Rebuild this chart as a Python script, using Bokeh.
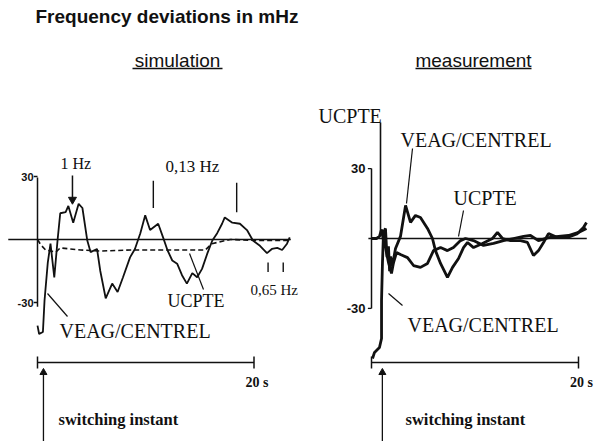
from bokeh.plotting import figure
from bokeh.models import Range1d
from bokeh.embed import file_html
from bokeh.resources import INLINE
from bokeh.core.properties import value

# ---------------- data ----------------
# simulation (left panel): time in s, deviation in mHz
sim_t = [0.0, 0.15, 0.5, 0.65, 0.95, 1.2, 1.55, 1.85, 2.1, 2.6, 2.85, 3.3, 3.8, 4.15, 4.6,
         4.9, 5.5, 5.8, 6.3, 6.9, 7.4, 7.9, 8.55, 9.0, 9.5, 9.95, 10.4, 11.15, 11.6, 12.0,
         12.45, 12.9, 13.35, 13.8, 14.3, 14.75, 15.2, 15.7, 16.15, 16.6, 17.05, 17.3, 18.0,
         18.7, 19.35, 19.9, 20.55, 21.2, 21.65, 22.15, 22.6, 23.05, 23.3]
sim_veag = [-41, -45, -44, -29, -11, -2, -18, -0.5, 12.5, 13, 16, 8, 17, 15, -0.5,
            -6, -4.5, -15, -28, -21, -25, -18, -8.5, -4.5, 3, 11.5, 4.5, 7.5, 1, -5,
            -10, -11.5, -17, -21, -16, -18, -14, -6.5, -0.5, 3, 7.5, 10.5, 8,
            7.5, 4.5, -0.5, -3, -6.5, -4.5, -4, -5, -2, 1]
sim_ucpte_t = [0.0, 0.3, 0.75, 1.7, 2.1, 4.0, 5.8, 8.6, 12.3, 15.5, 16.1, 17.8, 20.6, 23.3]
sim_ucpte = [0, -2.5, -5, -6, -4, -5, -5.5, -5, -5, -5, -2, 0, -0.5, -0.5]

# measurement (right panel)
meas_veag_t = [0.10, 0.29, 0.77, 0.97, 0.97, 1.06, 1.16, 1.35, 1.5, 1.64, 1.75, 1.84, 2.0,
               2.32, 2.80, 3.29, 3.77, 4.25, 4.73, 5.41, 5.89, 6.18, 6.67, 7.34, 7.83, 8.41,
               8.89, 9.28, 9.86, 10.72, 11.69, 12.17, 12.66, 13.43, 14.40, 15.07, 15.65,
               16.14, 16.62, 17.10, 17.97, 18.94, 19.90, 20.48, 20.77]
meas_veag = [-51.5, -48.9, -46.8, -42.9, -26.6, -10.3, 2.6, 4.3, -8.0, -3.4, -14.0, -7.7, -12.0,
             -4.3, 0.9, 14.2, 6.9, 9.9, 9.0, 4.3, 0, -5.2, -10.7, -16.7, -12.4, -8.6,
             -3.9, -1.7, -3.9, -2.1, 0, 2.6, 0, -0.9, -0.9, -1.7, -7.3,
             -5.2, -1.7, 2.1, 0.4, 0.4, 2.1, 4.7, 6.9]
meas_ucpte_t = [0, 0.48, 0.77, 0.97, 1.16, 1.35, 1.64, 1.93, 2.13, 2.42, 2.80, 3.48, 4.06, 4.73,
                5.41, 5.99, 6.67, 7.34, 7.92, 8.60, 9.08, 9.85, 10.82, 11.79, 12.75, 13.72,
                14.69, 15.36, 16.13, 17.10, 18.07, 19.03, 20.0, 20.77]
meas_ucpte = [0, 0, 0.9, 3.9, -0.9, -3.9, -10.3, -15.0, -10.3, -6.0, -6.9, -8.2, -11.6, -12.4,
              -10.7, -5.2, -3.9, -5.2, -3.9, -0.9, 0, -0.9, -3.0, -2.1, -0.9, 0,
              0.9, 1.3, -0.9, 0.4, 0.9, 1.3, 2.6, 4.3]

# axis ticks
y_ticks = [30, -30]
y_tick_labels = ["30", "-30"]
t_end = 20
t_end_label = "20 s"

# annotation markers (left panel), in s / mHz
one_hz_t = 3.23
one_hz_v = [30.5, 17.5]
f013_t = [10.7, 18.4]
f013_v = [[28.0, 15.0], [27.0, 13.0]]
f065_t = [21.3, 22.7]
f065_v = [-11.0, -15.5]
switch_t_sim = 0.55
switch_t_meas = 1.05

# ---------------- layout ----------------
W, H = 599, 441

p = figure(width=W, height=H, output_backend="svg", toolbar_location=None,
           x_range=Range1d(0, W), y_range=Range1d(H, 0),
           x_axis_type=None, y_axis_type=None, min_border=0,
           background_fill_color="white", border_fill_color="white")
p.grid.visible = False
p.outline_line_color = None

# panel scales: origin pixel and pixels per unit
L_x0, L_sx, L_y0, L_sy = 37, 216.5 / 20, 239, 2.1
R_x0, R_sx, R_y0, R_sy = 371, 207.0 / 20, 238, 2.33
p.extra_x_ranges = {
    "tL": Range1d(-L_x0 / L_sx, (W - L_x0) / L_sx),
    "tR": Range1d(-R_x0 / R_sx, (W - R_x0) / R_sx),
}
p.extra_y_ranges = {
    "vL": Range1d((L_y0 - H) / L_sy, L_y0 / L_sy),
    "vR": Range1d((R_y0 - H) / R_sy, R_y0 / R_sy),
}

BLACK = "#111111"
SERIF = value("Liberation Serif")
SANS = value("Liberation Sans")


def label(x, y, txt, size, font=SERIF, style="normal", align="left"):
    p.text(x=[x], y=[y], text=[txt], text_font=font, text_font_size=f"{size}px",
           text_font_style=style, text_align=align, text_baseline="middle", text_color=BLACK)


def pline(xs, ys, w=1.3):
    p.line(xs, ys, line_color=BLACK, line_width=w)


# titles
label(35, 16, "Frequency deviations in mHz", 19, font=SANS, style="bold")
label(177, 60, "simulation", 19, font=SANS, align="center")
pline([132, 222], [68, 68], 1.4)
label(473, 60, "measurement", 19, font=SANS, align="center")
pline([415, 531], [68, 68], 1.4)

# ---------- left panel (simulation) ----------
kL = dict(x_range_name="tL", y_range_name="vL")
p.line([-2.7, 23.4], [0, 0], line_color=BLACK, line_width=1.5, **kL)
p.line([0, 0], [29.5, -32], line_color=BLACK, line_width=1.5, **kL)
for v, lab in zip(y_ticks, y_tick_labels):
    p.segment(x0=[0], y0=[v], x1=[-0.35], y1=[v], line_color=BLACK, line_width=1.3, **kL)
    p.text(x=[0], y=[v], text=[lab], x_offset=-4, text_align="right", text_baseline="middle",
           text_font=SANS, text_font_style="bold", text_font_size="11px", text_color=BLACK, **kL)
p.line(sim_ucpte_t, sim_ucpte, line_color=BLACK, line_width=1.6, line_dash="5 3", **kL)
p.line(sim_t, sim_veag, line_color=BLACK, line_width=1.8, **kL)
# frequency markers
p.segment(x0=[one_hz_t], y0=[one_hz_v[0]], x1=[one_hz_t], y1=[one_hz_v[1] + 2],
          line_color=BLACK, line_width=1.5, **kL)
p.scatter([one_hz_t], [one_hz_v[1] + 1.5], marker="inverted_triangle", size=8,
          color=BLACK, **kL)
for t, (v0, v1) in zip(f013_t, f013_v):
    p.segment(x0=[t], y0=[v0], x1=[t], y1=[v1], line_color=BLACK, line_width=1.4, **kL)
for t in f065_t:
    p.segment(x0=[t], y0=[f065_v[0]], x1=[t], y1=[f065_v[1]], line_color=BLACK,
              line_width=1.4, **kL)
# time axis
yt = 362
p.segment(x0=[0], y0=[yt], x1=[t_end], y1=[yt], line_color=BLACK, line_width=1.5,
          x_range_name="tL")
p.segment(x0=[0, t_end], y0=[yt - 6, yt - 6], x1=[0, t_end], y1=[yt + 6, yt + 6],
          line_color=BLACK, line_width=1.5, x_range_name="tL")
p.text(x=[t_end], y=[382], text=[t_end_label], x_offset=3, text_align="center",
       text_baseline="middle", text_font=SERIF, text_font_style="bold", text_font_size="14px",
       text_color=BLACK, x_range_name="tL")
p.segment(x0=[switch_t_sim], y0=[441], x1=[switch_t_sim], y1=[372],
          line_color=BLACK, line_width=1.3, x_range_name="tL")
p.scatter([switch_t_sim], [372], marker="triangle", size=7, color=BLACK, x_range_name="tL")

label(60, 163, "1 Hz", 16)
label(165, 166, "0,13 Hz", 17)
label(250, 289, "0,65 Hz", 15)
label(167, 300, "UCPTE", 18)
pline([203, 189], [289, 253], 1.2)
label(59, 330, "VEAG/CENTREL", 20)
pline([47, 67], [293, 316], 1.2)
label(58, 419, "switching instant", 16.5, style="bold")

# ---------- right panel (measurement) ----------
kR = dict(x_range_name="tR", y_range_name="vR")
p.line([-0.3, 20.8], [0, 0], line_color=BLACK, line_width=1.5, **kR)
p.line([0, 0], [30, -30], line_color=BLACK, line_width=1.5, **kR)
for v, lab in zip(y_ticks, y_tick_labels):
    p.segment(x0=[0], y0=[v], x1=[-0.35], y1=[v], line_color=BLACK, line_width=1.3, **kR)
    p.text(x=[0], y=[v], text=[lab], x_offset=-6, text_align="right", text_baseline="middle",
           text_font=SANS, text_font_style="bold", text_font_size="13px", text_color=BLACK, **kR)
p.line(meas_ucpte_t, meas_ucpte, line_color=BLACK, line_width=2.8, **kR)
p.line(meas_veag_t, meas_veag, line_color=BLACK, line_width=2.8, **kR)
p.segment(x0=[0], y0=[yt], x1=[t_end], y1=[yt], line_color=BLACK, line_width=1.5,
          x_range_name="tR")
p.segment(x0=[0, t_end], y0=[yt - 6, yt - 6], x1=[0, t_end], y1=[yt + 6, yt + 6],
          line_color=BLACK, line_width=1.5, x_range_name="tR")
p.text(x=[t_end], y=[382], text=[t_end_label], x_offset=3, text_align="center",
       text_baseline="middle", text_font=SERIF, text_font_style="bold", text_font_size="14px",
       text_color=BLACK, x_range_name="tR")
p.segment(x0=[switch_t_meas], y0=[441], x1=[switch_t_meas], y1=[372],
          line_color=BLACK, line_width=1.3, x_range_name="tR")
p.scatter([switch_t_meas], [372], marker="triangle", size=7, color=BLACK, x_range_name="tR")

label(318, 115, "UCPTE", 20)
pline([380, 380], [122, 236], 1.6)
label(400, 139, "VEAG/CENTREL", 20)
pline([412, 406], [148, 203], 1.2)
label(453, 197, "UCPTE", 20)
pline([463, 458], [210, 236], 1.2)
label(407, 324, "VEAG/CENTREL", 20)
pline([402, 388], [305, 293], 1.2)
label(405, 419, "switching instant", 16.5, style="bold")

open("out.html", "w").write(file_html(p, INLINE))
